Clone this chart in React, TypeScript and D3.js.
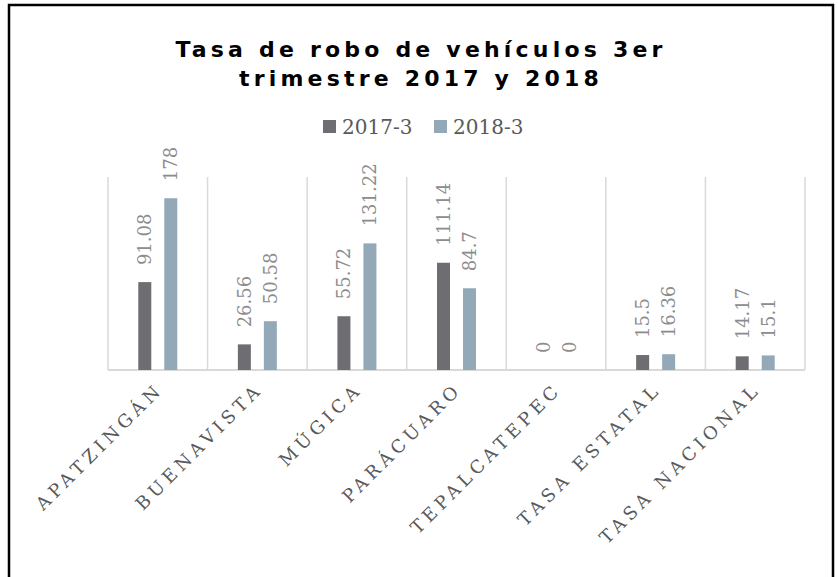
import React from "react";
import * as d3 from "d3";

const categories = ["APATZINGÁN", "BUENAVISTA", "MÚGICA", "PARÁCUARO", "TEPALCATEPEC", "TASA ESTATAL", "TASA NACIONAL"];
const series = ["2017-3", "2018-3"];
const values2017 = [91.08, 26.56, 55.72, 111.14, 0, 15.5, 14.17];
const values2018 = [178, 50.58, 131.22, 84.7, 0, 16.36, 15.1];
const labels2017 = ["91.08", "26.56", "55.72", "111.14", "0", "15.5", "14.17"];
const labels2018 = ["178", "50.58", "131.22", "84.7", "0", "16.36", "15.1"];
const titleLines = ["Tasa de robo de vehículos 3er", "trimestre 2017 y 2018"];
const colors = ["#6e6d72", "#93a9b8"];

const W = 838, H = 577;
const left = 108, right = 805, top = 177, bottom = 370;
const serif = "'DejaVu Serif', serif";

export default function App() {
  const x = d3.scaleBand<string>().domain(categories).range([left, right]).paddingInner(0).paddingOuter(0);
  const bw = x.bandwidth();
  const xs = d3.scaleBand<string>().domain(series).range([0, bw]).paddingInner(0.5).paddingOuter(1.165);
  const y = d3.scaleLinear().domain([0, 200]).range([bottom, top]);
  const data = [values2017, values2018];
  const labs = [labels2017, labels2018];
  const gridXs = categories.map((c) => x(c) as number).concat([right]);

  return (
    <svg width={W} height={H} style={{ position: "absolute", left: 0, top: 0, background: "#fff" }}>
      <rect x={0} y={0} width={W} height={H} fill="#fff" />
      <rect x={9} y={5} width={824} height={H + 20} fill="none" stroke="#000" strokeWidth={2.5} />
      {titleLines.map((t, i) => (
        <text key={i} x={W / 2 + 2} y={57 + i * 29} textAnchor="middle" fontFamily="'DejaVu Sans', sans-serif" fontWeight="bold" fontSize={22} letterSpacing={4.2} fill="#000">
          {t}
        </text>
      ))}
      {series.map((s, i) => {
        const lx = [323, 434][i];
        return (
          <g key={s}>
            <rect x={lx} y={120} width={13} height={13} fill={colors[i]} />
            <text x={lx + 19} y={134} fontFamily={serif} fontSize={20} fill="#595959">{s}</text>
          </g>
        );
      })}
      {gridXs.map((gx, i) => (
        <line key={i} x1={gx} x2={gx} y1={top} y2={bottom} stroke="#d9d9d9" strokeWidth={1.5} />
      ))}
      <line x1={left} x2={right} y1={bottom} y2={bottom} stroke="#d9d9d9" strokeWidth={2} />
      {series.map((s, si) =>
        categories.map((c, ci) => {
          const bx = (x(c) as number) + (xs(s) as number);
          const v = data[si][ci];
          return (
            <g key={s + c}>
              <rect x={bx} y={y(v)} width={xs.bandwidth()} height={bottom - y(v)} fill={colors[si]} />
              <text
                transform={`translate(${bx + xs.bandwidth() / 2},${y(v) - 17}) rotate(-90)`}
                dy="0.36em"
                fontFamily={serif}
                fontSize={18}
                fill="#8c8c8c"
              >
                {labs[si][ci]}
              </text>
            </g>
          );
        })
      )}
      {categories.map((c) => {
        const cx = (x(c) as number) + bw / 2;
        return (
          <text key={c} transform={`translate(${cx + 2},386) rotate(-45)`} textAnchor="end" dy="0.35em" fontFamily={serif} fontSize={18} letterSpacing={4.5} fill="#595959">
            {c}
          </text>
        );
      })}
    </svg>
  );
}
